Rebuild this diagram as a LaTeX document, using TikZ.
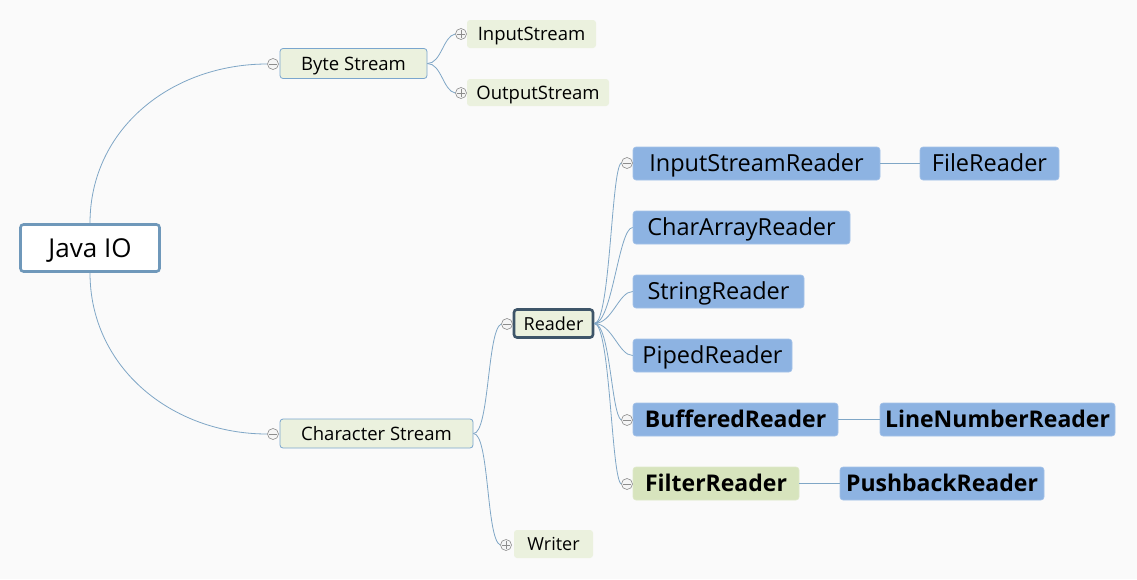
\documentclass[tikz,border=0pt]{standalone}
\usepackage{fontspec}
\setmainfont{Open Sans}
\definecolor{bg}{HTML}{FAFAFA}
\definecolor{lnk}{HTML}{7FA6C6}
\definecolor{lgreen}{HTML}{EBF1DE}
\definecolor{blueF}{HTML}{8DB3E2}
\definecolor{greenF}{HTML}{D7E4BD}
\definecolor{rootB}{HTML}{6F98BA}
\definecolor{readerB}{HTML}{3E5569}
\definecolor{thinB}{HTML}{7AA6CE}
\definecolor{mkB}{HTML}{8C8C8C}
\tikzset{
  box/.style={rounded corners=3pt, inner sep=0pt, align=center, text=black, text depth=0pt},
  lvl2/.style={box, fill=lgreen, draw=thinB, line width=0.8pt, font=\fontsize{18.5}{21}\selectfont, text height=13.3pt},
  leaf/.style={box, fill=lgreen, font=\fontsize{18.5}{21}\selectfont, text height=13.3pt},
  cls/.style={box, fill=blueF, draw=blueF!80!white, line width=0.6pt, font=\fontsize{23.5}{27}\selectfont, text height=16.9pt},
  clsb/.style={cls, font=\fontsize{23}{27}\selectfont\bfseries, text height=16.6pt},
  mk/.style={circle, draw=mkB, fill=white!92!gray, line width=0.6pt, minimum size=11pt, inner sep=0pt},
  minusmk/.style={mk, path picture={\draw[mkB, line width=0.7pt] ([xshift=-3.6pt]path picture bounding box.center) -- ([xshift=3.6pt]path picture bounding box.center);}},
  plusmk/.style={mk, path picture={\draw[mkB, line width=0.7pt] ([xshift=-3.6pt]path picture bounding box.center) -- ([xshift=3.6pt]path picture bounding box.center) ([yshift=-3.6pt]path picture bounding box.center) -- ([yshift=3.6pt]path picture bounding box.center);}},
  link/.style={draw=lnk, line width=0.8pt},
}
\begin{document}
\begin{tikzpicture}[x=1pt, y=-1pt]
\fill[bg] (0,0) rectangle (1137,579);
\useasboundingbox (0,0) rectangle (1137,579);

% root
\node[box, fill=white, draw=rootB, line width=2.6pt, minimum width=139pt, minimum height=47pt, font=\fontsize{26}{30}\selectfont, text height=18.7pt] (root) at (90,248) {Java IO};

% level 2
\node[lvl2, minimum width=147pt, minimum height=30pt] (bs) at (353.5,63.5) {Byte Stream};
\node[minusmk] (mbs) at (273,64) {};
\node[lvl2, minimum width=193pt, minimum height=29pt] (cs) at (376.5,433.5) {Character Stream};
\node[minusmk] (mcs) at (273,434) {};

% byte stream children
\node[leaf, minimum width=129pt, minimum height=28pt] (is) at (531.5,34) {InputStream};
\node[plusmk] (mis) at (461,34) {};
\node[leaf, minimum width=142pt, minimum height=27pt] (os) at (538,92.5) {OutputStream};
\node[plusmk] (mos) at (461,93) {};

% character stream children
\node[box, fill=lgreen, draw=readerB, line width=2.6pt, minimum width=79pt, minimum height=28pt, font=\fontsize{18}{21}\selectfont, text height=13pt] (rd) at (553.5,323.5) {Reader};
\node[minusmk] (mrd) at (507,324) {};
\node[leaf, minimum width=79pt, minimum height=28pt, font=\fontsize{18}{21}\selectfont, text height=13pt] (wr) at (553.5,544) {Writer};
\node[plusmk] (mwr) at (506,545) {};

% reader children
\node[cls, minimum width=247pt, minimum height=33pt] (isr) at (756.5,163.5) {InputStreamReader};
\node[minusmk] (misr) at (627,163) {};
\node[cls, minimum width=139pt, minimum height=33pt] (fr) at (989.5,163.5) {FileReader};
\node[cls, minimum width=217pt, minimum height=33pt] (car) at (741.5,227.5) {CharArrayReader};
\node[cls, minimum width=171pt, minimum height=33pt] (sr) at (718.5,291.5) {StringReader};
\node[cls, minimum width=159pt, minimum height=33pt] (pr) at (712.5,355.5) {PipedReader};
\node[clsb, minimum width=205pt, minimum height=33pt] (br) at (735.5,419.5) {BufferedReader};
\node[minusmk] (mbr) at (627,420) {};
\node[clsb, minimum width=235pt, minimum height=33pt] (lnr) at (997.5,419.5) {LineNumberReader};
\node[clsb, fill=greenF, draw=greenF!80!white, minimum width=166pt, minimum height=33pt] (flr) at (716,483.5) {FilterReader};
\node[minusmk] (mflr) at (627,484) {};
\node[clsb, minimum width=204pt, minimum height=33pt] (pbr) at (942,483.5) {PushbackReader};

% connectors
\draw[link] (root.north) .. controls +(0,-95) and +(-95,0) .. (mbs.west);
\draw[link] (root.south) .. controls +(0,95) and +(-95,0) .. (mcs.west);
\draw[link] (bs.east) .. controls +(14,0) and +(-12,2) .. (mis.west);
\draw[link] (bs.east) .. controls +(14,0) and +(-12,-2) .. (mos.west);
\draw[link] (cs.east) .. controls +(16,0) and +(-14,6) .. (mrd.west);
\draw[link] (cs.east) .. controls +(16,0) and +(-14,-6) .. (mwr.west);
\draw[link] (rd.east) .. controls +(16,0) and +(-10,6) .. (misr.west);
\draw[link] (rd.east) .. controls +(18,0) and +(-14,0) .. (car.west);
\draw[link] (rd.east) .. controls +(18,0) and +(-14,0) .. (sr.west);
\draw[link] (rd.east) .. controls +(18,0) and +(-14,0) .. (pr.west);
\draw[link] (rd.east) .. controls +(16,0) and +(-10,-6) .. (mbr.west);
\draw[link] (rd.east) .. controls +(16,0) and +(-10,-6) .. (mflr.west);
\draw[link] (isr.east) -- (fr.west);
\draw[link] (br.east) -- (lnr.west);
\draw[link] (flr.east) -- (pbr.west);
\end{tikzpicture}
\end{document}
